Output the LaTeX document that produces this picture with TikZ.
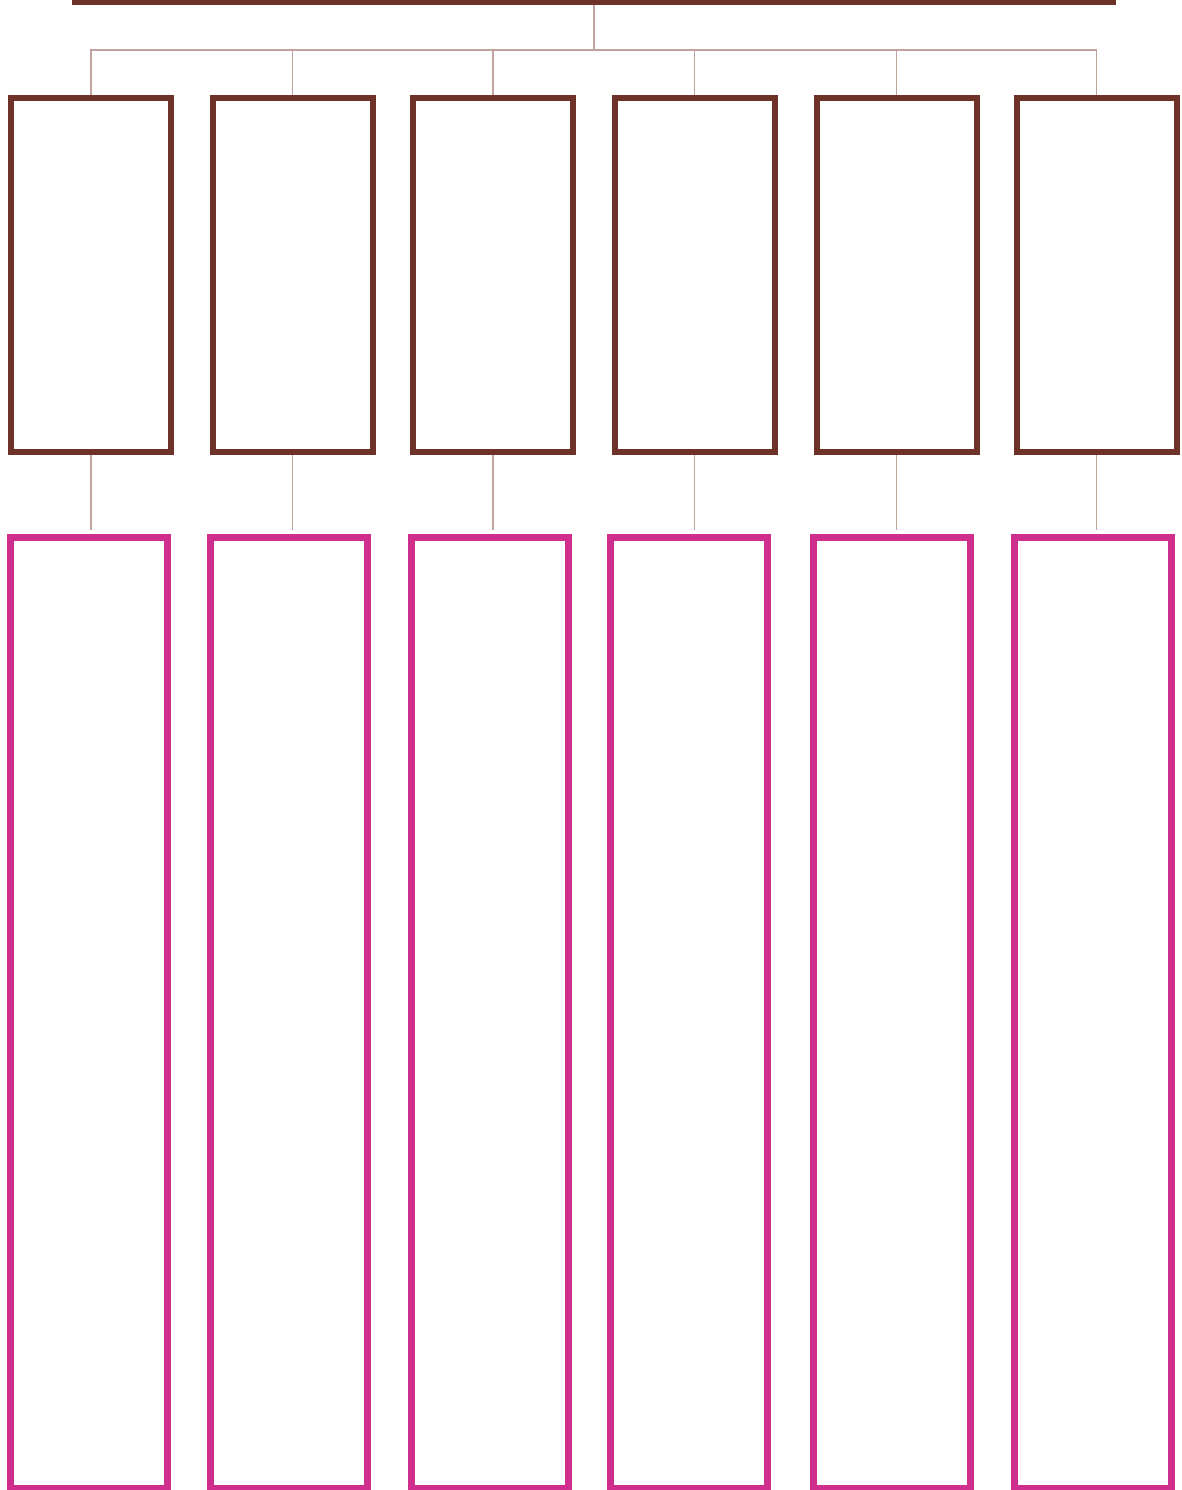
\documentclass[tikz,border=0pt]{standalone}
\definecolor{boxbrown}{HTML}{6E3229}
\definecolor{boxpink}{HTML}{CF2E8C}
\definecolor{linkc}{HTML}{C2A29D}
\begin{document}
\begin{tikzpicture}[x=1pt,y=-1pt,
  topbox/.style={draw=boxbrown,line width=6pt,rectangle,inner sep=0pt,minimum width=1038pt,minimum height=60pt},
  brownbox/.style={draw=boxbrown,line width=6pt,rectangle,inner sep=0pt,minimum width=160pt,minimum height=354pt},
  pinkbox/.style={draw=boxpink,line width=7pt,rectangle,inner sep=0pt,minimum width=157pt,minimum height=951pt},
  link/.style={draw=linkc,line width=1.6pt}]
\clip (0,0) rectangle (1182,1490);
\fill[white] (0,0) rectangle (1182,1490);
\node[topbox] (top) at (594,-28) {};
\foreach \i/\bx/\px in {1/91/89, 2/292.5/288.5, 3/493/489.5, 4/694.5/688.5, 5/896.5/891.5, 6/1096.5/1093}{
  \node[brownbox] (b\i) at (\bx,275) {};
  \node[pinkbox] (p\i) at (\px,1013) {};
  \draw[link] (top.south) -- ++(0,45) -| (b\i.north);
  \draw[link,shorten >=4pt] (b\i.south) -- (b\i.south |- p\i.north);
}
\end{tikzpicture}
\end{document}
